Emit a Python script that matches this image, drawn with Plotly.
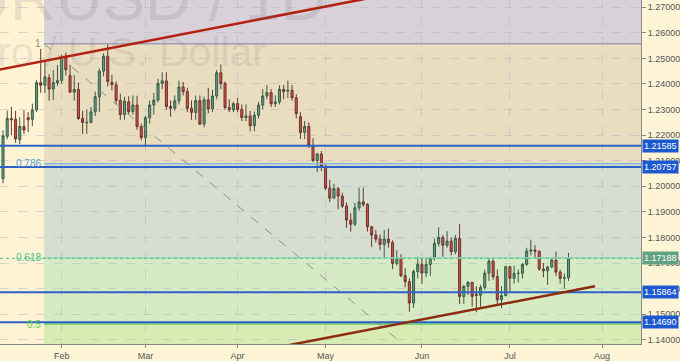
import numpy as np
import plotly.graph_objects as go

# ---------------- data (EUR/USD daily) ----------------
dates = ["2018-01-12","2018-01-15","2018-01-16","2018-01-17","2018-01-18","2018-01-19",
         "2018-01-22","2018-01-23","2018-01-24","2018-01-25","2018-01-26",
         "2018-01-29","2018-01-30","2018-01-31","2018-02-01","2018-02-02",
         "2018-02-05","2018-02-06","2018-02-07","2018-02-08","2018-02-09",
         "2018-02-12","2018-02-13","2018-02-14","2018-02-15","2018-02-16",
         "2018-02-19","2018-02-20","2018-02-21","2018-02-22","2018-02-23",
         "2018-02-26","2018-02-27","2018-02-28","2018-03-01","2018-03-02",
         "2018-03-05","2018-03-06","2018-03-07","2018-03-08","2018-03-09",
         "2018-03-12","2018-03-13","2018-03-14","2018-03-15","2018-03-16",
         "2018-03-19","2018-03-20","2018-03-21","2018-03-22","2018-03-23",
         "2018-03-26","2018-03-27","2018-03-28","2018-03-29","2018-03-30",
         "2018-04-02","2018-04-03","2018-04-04","2018-04-05","2018-04-06",
         "2018-04-09","2018-04-10","2018-04-11","2018-04-12","2018-04-13",
         "2018-04-16","2018-04-17","2018-04-18","2018-04-19","2018-04-20",
         "2018-04-23","2018-04-24","2018-04-25","2018-04-26","2018-04-27",
         "2018-04-30","2018-05-01","2018-05-02","2018-05-03","2018-05-04",
         "2018-05-07","2018-05-08","2018-05-09","2018-05-10","2018-05-11",
         "2018-05-14","2018-05-15","2018-05-16","2018-05-17","2018-05-18",
         "2018-05-21","2018-05-22","2018-05-23","2018-05-24","2018-05-25",
         "2018-05-28","2018-05-29","2018-05-30","2018-05-31","2018-06-01",
         "2018-06-04","2018-06-05","2018-06-06","2018-06-07","2018-06-08",
         "2018-06-11","2018-06-12","2018-06-13","2018-06-14","2018-06-15",
         "2018-06-18","2018-06-19","2018-06-20","2018-06-21","2018-06-22",
         "2018-06-25","2018-06-26","2018-06-27","2018-06-28","2018-06-29",
         "2018-07-02","2018-07-03","2018-07-04","2018-07-05","2018-07-06",
         "2018-07-09","2018-07-10","2018-07-11","2018-07-12","2018-07-13",
         "2018-07-16","2018-07-17","2018-07-18","2018-07-19","2018-07-20"]

opens = [1.2030,1.2195,1.2265,1.2262,1.2182,1.2234,
         1.2268,1.2262,1.2299,1.2405,1.2395,
         1.2424,1.2380,1.2405,1.2413,1.2508,
         1.2433,1.2368,1.2379,1.2265,1.2248,
         1.2250,1.2291,1.2350,1.2450,1.2508,
         1.2406,1.2397,1.2336,1.2280,1.2330,
         1.2292,1.2318,1.2233,1.2191,1.2268,
         1.2318,1.2337,1.2402,1.2412,1.2312,
         1.2305,1.2334,1.2388,1.2370,1.2305,
         1.2289,1.2335,1.2243,1.2338,1.2302,
         1.2353,1.2444,1.2402,1.2308,1.2299,
         1.2323,1.2301,1.2269,1.2275,1.2237,
         1.2278,1.2318,1.2353,1.2366,1.2323,
         1.2330,1.2379,1.2372,1.2375,1.2346,
         1.2272,1.2211,1.2234,1.2160,1.2101,
         1.2126,1.2079,1.1993,1.1954,1.1991,
         1.1962,1.1923,1.1868,1.1852,1.1916,
         1.1939,1.1929,1.1842,1.1810,1.1794,
         1.1773,1.1794,1.1780,1.1699,1.1721,
         1.1651,1.1628,1.1544,1.1667,1.1695,
         1.1661,1.1695,1.1721,1.1777,1.1800,
         1.1770,1.1786,1.1745,1.1796,1.1570,
         1.1609,1.1625,1.1578,1.1574,1.1605,
         1.1661,1.1708,1.1647,1.1557,1.1573,
         1.1686,1.1641,1.1660,1.1660,1.1695,
         1.1747,1.1751,1.1746,1.1677,1.1670,
         1.1685,1.1712,1.1665,1.1641,1.1643]

highs = [1.2219,1.2296,1.2310,1.2295,1.2270,1.2297,
         1.2290,1.2323,1.2415,1.2537,1.2493,
         1.2438,1.2454,1.2474,1.2515,1.2522,
         1.2475,1.2435,1.2405,1.2295,1.2300,
         1.2310,1.2370,1.2460,1.2520,1.2555,
         1.2435,1.2410,1.2362,1.2350,1.2352,
         1.2355,1.2354,1.2245,1.2275,1.2335,
         1.2365,1.2420,1.2446,1.2446,1.2335,
         1.2355,1.2413,1.2408,1.2385,1.2336,
         1.2355,1.2355,1.2350,1.2385,1.2377,
         1.2455,1.2476,1.2410,1.2340,1.2330,
         1.2345,1.2320,1.2320,1.2295,1.2292,
         1.2330,1.2380,1.2396,1.2380,1.2355,
         1.2395,1.2395,1.2413,1.2396,1.2360,
         1.2290,1.2255,1.2250,1.2188,1.2130,
         1.2138,1.2085,1.2025,1.2010,1.1998,
         1.1975,1.1937,1.1895,1.1935,1.1995,
         1.1995,1.1935,1.1845,1.1830,1.1812,
         1.1830,1.1835,1.1789,1.1750,1.1735,
         1.1680,1.1640,1.1675,1.1725,1.1720,
         1.1718,1.1725,1.1795,1.1840,1.1810,
         1.1825,1.1800,1.1810,1.1852,1.1615,
         1.1630,1.1626,1.1610,1.1615,1.1675,
         1.1720,1.1715,1.1675,1.1610,1.1690,
         1.1690,1.1690,1.1675,1.1700,1.1760,
         1.1791,1.1770,1.1750,1.1700,1.1690,
         1.1720,1.1745,1.1675,1.1660,1.1740]

lows = [1.2012,1.2184,1.2200,1.2170,1.2165,1.2205,
        1.2212,1.2235,1.2290,1.2365,1.2364,
        1.2335,1.2337,1.2393,1.2400,1.2433,
        1.2365,1.2335,1.2260,1.2205,1.2205,
        1.2245,1.2275,1.2290,1.2430,1.2390,
        1.2375,1.2320,1.2260,1.2260,1.2280,
        1.2280,1.2220,1.2180,1.2155,1.2245,
        1.2280,1.2328,1.2380,1.2300,1.2272,
        1.2295,1.2320,1.2355,1.2290,1.2260,
        1.2260,1.2240,1.2230,1.2285,1.2290,
        1.2340,1.2380,1.2300,1.2290,1.2290,
        1.2290,1.2255,1.2255,1.2215,1.2215,
        1.2265,1.2300,1.2340,1.2310,1.2310,
        1.2320,1.2340,1.2345,1.2335,1.2265,
        1.2185,1.2185,1.2150,1.2095,1.2055,
        1.2060,1.1985,1.1938,1.1950,1.1910,
        1.1915,1.1838,1.1823,1.1845,1.1905,
        1.1920,1.1823,1.1763,1.1780,1.1750,
        1.1716,1.1760,1.1676,1.1690,1.1645,
        1.1606,1.1510,1.1525,1.1640,1.1618,
        1.1645,1.1650,1.1710,1.1765,1.1725,
        1.1760,1.1730,1.1735,1.1540,1.1541,
        1.1575,1.1530,1.1508,1.1528,1.1595,
        1.1630,1.1635,1.1540,1.1525,1.1570,
        1.1590,1.1620,1.1625,1.1640,1.1690,
        1.1730,1.1720,1.1670,1.1645,1.1615,
        1.1680,1.1650,1.1620,1.1600,1.1630]

closes = [1.2197,1.2265,1.2260,1.2185,1.2234,1.2220,
          1.2260,1.2299,1.2405,1.2395,1.2428,
          1.2380,1.2405,1.2413,1.2505,1.2456,
          1.2368,1.2379,1.2265,1.2250,1.2250,
          1.2291,1.2350,1.2450,1.2508,1.2410,
          1.2398,1.2336,1.2280,1.2333,1.2292,
          1.2318,1.2233,1.2191,1.2268,1.2318,
          1.2337,1.2402,1.2412,1.2312,1.2305,
          1.2334,1.2388,1.2370,1.2305,1.2289,
          1.2335,1.2243,1.2338,1.2302,1.2353,
          1.2444,1.2402,1.2308,1.2299,1.2323,
          1.2301,1.2269,1.2275,1.2237,1.2278,
          1.2318,1.2353,1.2366,1.2323,1.2330,
          1.2379,1.2370,1.2375,1.2346,1.2284,
          1.2211,1.2234,1.2160,1.2101,1.2126,
          1.2079,1.1993,1.1954,1.1991,1.1962,
          1.1923,1.1868,1.1852,1.1916,1.1939,
          1.1929,1.1842,1.1810,1.1794,1.1773,
          1.1794,1.1780,1.1699,1.1721,1.1651,
          1.1628,1.1544,1.1667,1.1695,1.1661,
          1.1695,1.1721,1.1777,1.1800,1.1770,
          1.1786,1.1745,1.1796,1.1570,1.1609,
          1.1625,1.1570,1.1574,1.1605,1.1661,
          1.1708,1.1647,1.1557,1.1573,1.1686,
          1.1641,1.1660,1.1660,1.1695,1.1747,
          1.1751,1.1746,1.1677,1.1670,1.1685,
          1.1712,1.1665,1.1641,1.1643,1.17188]

month_tick_dates = ["2018-02-01","2018-03-01","2018-04-02","2018-05-01",
                    "2018-06-01","2018-07-02","2018-08-01"]
month_labels = ["Feb","Mar","Apr","May","Jun","Jul","Aug"]

level_lines = [1.21585, 1.20757, 1.15864, 1.14690]
last_price = 1.17188

fib_high = 1.2557
fib_low = 1.0367
fib_ratios = [1, 0.786, 0.618, 0.5]
fib_labels = ["1", "0.786", "0.618", "0.5"]
fib_start_date = "2018-01-26"

upper_trend = [("2018-01-12", 1.2459), ("2018-05-04", 1.2712)]
lower_trend = [("2018-04-19", 1.1382), ("2018-07-31", 1.1612)]
fib_diag = [("2018-01-26", 1.2557), ("2018-06-04", 1.1308)]

# ---------------- helpers ----------------
start = dates[0]
def bidx(d):
    return int(np.busday_count(start, d))

x = [bidx(d) for d in dates]
tickvals = [bidx(d) for d in month_tick_dates]
xmin, xmax = -0.72, 152.3
ymin, ymax = 1.1384, 1.2728

fig = go.Figure()
fig.add_trace(go.Candlestick(
    x=x, open=opens, high=highs, low=lows, close=closes,
    increasing=dict(fillcolor="#5aa37b", line=dict(color="#3d5a48", width=1)),
    decreasing=dict(fillcolor="#d84c3e", line=dict(color="#6a3430", width=1)),
    whiskerwidth=0, showlegend=False, hoverinfo="skip"))

shapes = []
fx0 = bidx(fib_start_date) - 0.2
fib_prices = [fib_low + r * (fib_high - fib_low) for r in fib_ratios]
# bands
band_edges = [ymax + 0.01] + fib_prices + [ymin - 0.01]
band_colors = ["#d9d1d8", "#e9ddc0", "#d6ded0", "#d6ebc4", "#d7ebb2"]
for i, c in enumerate(band_colors):
    shapes.append(dict(type="rect", xref="x", yref="y", x0=fx0, x1=xmax,
                       y0=band_edges[i + 1], y1=band_edges[i],
                       fillcolor=c, line=dict(width=0), layer="below"))
fib_line_colors = ["#a29db6", "#86b9d9", "#97d5ae", "#66cc66"]
for p, c in zip(fib_prices, fib_line_colors):
    shapes.append(dict(type="line", xref="x", yref="y", x0=fx0, x1=xmax, y0=p, y1=p,
                       line=dict(color=c, width=1.5)))
# fib diagonal
(d0, p0), (d1, p1) = fib_diag
shapes.append(dict(type="line", xref="x", yref="y", x0=bidx(d0) - 0.2, y0=p0,
                   x1=bidx(d1), y1=p1, line=dict(color="#8f8f8f", width=1, dash="dash")))
# horizontal levels
for lv in level_lines:
    shapes.append(dict(type="line", xref="paper", yref="y", x0=0, x1=1, y0=lv, y1=lv,
                       line=dict(color="#2d60c8", width=2)))
shapes.append(dict(type="line", xref="paper", yref="y", x0=0, x1=1, y0=last_price, y1=last_price,
                   line=dict(color="#5cc9a2", width=1.2, dash="dot")))
# trend lines
def ext_line(pts, xa, xb, color):
    (da, pa), (db, pb) = pts
    ia, ib = bidx(da), bidx(db)
    s = (pb - pa) / (ib - ia)
    return dict(type="line", xref="x", yref="y", x0=xa, y0=pa + s * (xa - ia),
                x1=xb, y1=pa + s * (xb - ia), line=dict(color=color, width=2.5))
shapes.append(ext_line(upper_trend, xmin - 1, 100, "#b3200e"))
ut = lower_trend
shapes.append(ext_line(lower_trend, bidx(ut[0][0]) - 1, bidx(ut[1][0]) - 0.7, "#8c2c10"))

annotations = []
# watermark
annotations.append(dict(text="EURUSD / 1D", xref="paper", yref="paper", x=328 / 641, y=1.005,
                        xanchor="right", yanchor="middle", showarrow=False,
                        font=dict(family="Liberation Sans", size=64, color="rgba(110,100,120,0.15)")))
annotations.append(dict(text="Euro / U.S. Dollar", xref="paper", yref="paper", x=268 / 641,
                        y=1 - 52 / 346, xanchor="right", yanchor="middle", showarrow=False,
                        font=dict(family="Liberation Sans", size=41, color="rgba(110,100,120,0.15)")))
# fib labels
fib_label_colors = ["#8a8a8a", "#5b9bd5", "#45c28a", "#5ccf3c"]
for p, t, c in zip(fib_prices, fib_labels, fib_label_colors):
    annotations.append(dict(text=t, x=fx0, y=p, xref="x", yref="y", xanchor="right",
                            yanchor="middle", showarrow=False, xshift=-1,
                            font=dict(family="Liberation Sans", size=10, color=c)))
# right-axis price boxes
for lv in level_lines:
    annotations.append(dict(text=f"{lv:.5f}", xref="paper", yref="y", x=1, y=lv,
                            xanchor="left", yanchor="middle", showarrow=False, xshift=1,
                            bgcolor="#1c58d0", borderpad=1,
                            font=dict(family="Liberation Sans", size=9, color="white")))
annotations.append(dict(text=f"{last_price:.5f}", xref="paper", yref="y", x=1, y=last_price,
                        xanchor="left", yanchor="middle", showarrow=False, xshift=1,
                        bgcolor="#62a383", borderpad=1,
                        font=dict(family="Liberation Sans", size=9, color="white")))

fig.update_layout(
    width=680, height=361, margin=dict(l=0, r=39, t=0, b=15),
    paper_bgcolor="#fff4d6", plot_bgcolor="#fff3d3",
    shapes=shapes, annotations=annotations,
    xaxis=dict(range=[xmin, xmax], tickvals=tickvals, ticktext=month_labels,
               showgrid=True, gridcolor="rgba(170,175,200,0.45)", griddash="dash",
               ticks="outside", ticklen=3, tickcolor="#888", showline=True,
               linecolor="#8a8a8a", zeroline=False, rangeslider=dict(visible=False),
               tickfont=dict(family="Liberation Sans", size=9, color="#555")),
    yaxis=dict(range=[ymin, ymax], side="right", tick0=1.14, dtick=0.01, tickformat=".5f",
               showgrid=True, gridcolor="rgba(170,175,200,0.45)", griddash="dash",
               ticks="outside", ticklen=4, tickcolor="#888", showline=True,
               linecolor="#8a8a8a", zeroline=False,
               tickfont=dict(family="Liberation Sans", size=9, color="#555")),
)

fig.write_html("out.html")
